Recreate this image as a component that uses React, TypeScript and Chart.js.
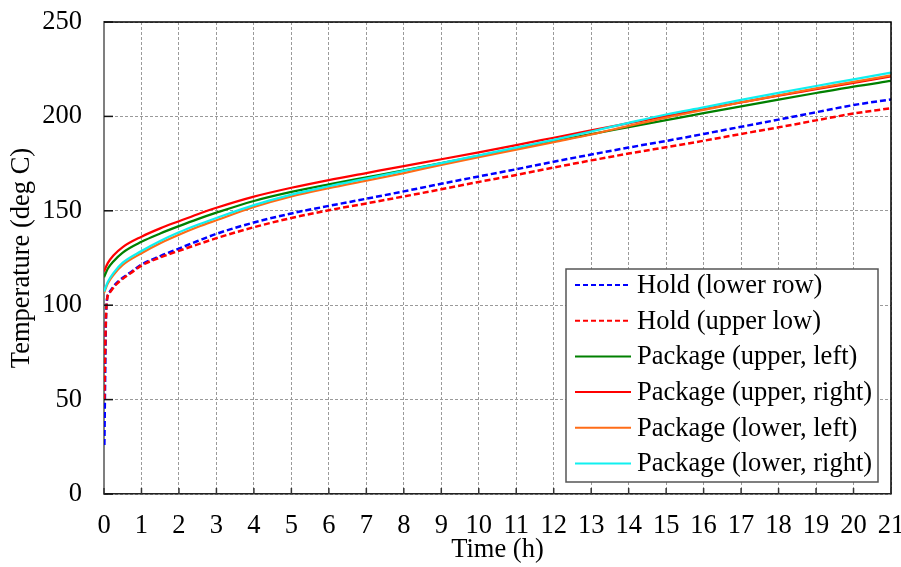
import React, { useEffect, useRef } from "react";
import { Chart, registerables } from "chart.js";

Chart.register(...registerables);

// ---------- data ----------
const HOLD_TIME = [
  0.01, 0.03, 0.05, 0.08, 0.15, 0.3, 0.5, 0.75, 1, 1.5, 2, 2.5, 3,
  4, 5, 6, 7, 8, 9, 10, 11, 12, 13, 14, 15, 16, 17, 18, 19, 20, 21,
];
const HOLD_LOWER_ROW = [
  26, 60, 90, 103, 107, 111, 114.5, 118, 121.5, 126, 130, 134, 137.8,
  143.8, 148.6, 152.6, 156.4, 160.3, 164.3, 168.2, 172, 176, 179.8, 183.5, 187, 190.7, 194.5, 198.3, 202.2, 206, 209,
];
const HOLD_UPPER_LOW = [
  50, 75, 92, 103, 106.5, 110.5, 114, 117.5, 121, 125.3, 128.8, 132.2, 135.5,
  141.3, 146.2, 150.3, 153.9, 157.6, 161.4, 165.3, 169, 172.9, 176.7, 180.3, 183.7, 187.1, 190.7, 194.2, 197.9, 201.5, 204.3,
];

const PKG_TIME = [
  0, 0.1, 0.25, 0.5, 1, 1.5, 2, 2.5, 3,
  4, 5, 6, 7, 8, 9, 10, 11, 12, 13, 14, 15, 16, 17, 18, 19, 20, 21,
];
const PKG_UPPER_LEFT = [
  114.8, 119.3, 123.2, 127.9, 133.6, 138, 141.9, 145.6, 149,
  155.2, 160, 164, 167.7, 171.4, 175.2, 179.1, 183, 186.8, 190.6, 194.3, 198, 201.7, 205.3, 208.9, 212.4, 215.8, 218.8,
];
const PKG_UPPER_RIGHT = [
  117.8, 122.3, 126.3, 130.8, 136.3, 140.7, 144.5, 148.2, 151.6,
  157.5, 162.2, 166.3, 170, 173.7, 177.3, 181, 184.8, 188.7, 192.6, 196.4, 200.2, 203.8, 207.4, 211, 214.4, 217.8, 221.2,
];
const PKG_LOWER_LEFT = [
  106.5, 111.5, 116, 121.3, 127.5, 132.8, 137.3, 141.4, 145,
  152, 157.6, 162, 166, 170, 174.3, 178.4, 182.4, 186.4, 190.4, 195, 199.4, 203.4, 207.5, 211.2, 214.8, 218.3, 221.7,
];
const PKG_LOWER_RIGHT = [
  107.2, 112.3, 117, 122.5, 128.7, 134, 138.6, 142.6, 146.2,
  153, 158.6, 163, 167, 171.1, 175.3, 179.4, 183.5, 187.6, 192, 196.6, 201, 204.8, 208.7, 212.5, 216.1, 219.6, 223.2,
];

const SERIES_LABELS = [
  "Hold (lower row)",
  "Hold (upper low)",
  "Package (upper, left)",
  "Package (upper, right)",
  "Package (lower, left)",
  "Package (lower, right)",
];

const X_TITLE = "Time (h)";
const Y_TITLE = "Temperature (deg C)";

const FONT = "'Liberation Serif', 'Times New Roman', serif";
const FS = 26.5;

export default function App() {
  const ref = useRef<HTMLCanvasElement>(null);

  useEffect(() => {
    document.body.style.margin = "0";
    const canvas = ref.current;
    if (!canvas) return;

    const pts = (xs: number[], ys: number[]) => xs.map((x, i) => ({ x, y: ys[i] }));

    const specs = [
      { t: HOLD_TIME, v: HOLD_LOWER_ROW, color: "#0000FF", dash: [6, 3] },
      { t: HOLD_TIME, v: HOLD_UPPER_LOW, color: "#FF0000", dash: [6, 3] },
      { t: PKG_TIME, v: PKG_UPPER_LEFT, color: "#008000", dash: [] as number[] },
      { t: PKG_TIME, v: PKG_UPPER_RIGHT, color: "#FF0000", dash: [] as number[] },
      { t: PKG_TIME, v: PKG_LOWER_LEFT, color: "#FF6C17", dash: [] as number[] },
      { t: PKG_TIME, v: PKG_LOWER_RIGHT, color: "#10F0F0", dash: [] as number[] },
    ];

    const framePlugin = {
      id: "frameAndLegend",
      afterDraw(chart: any) {
        const { ctx, chartArea } = chart;
        const { left, right, top, bottom } = chartArea;
        const xs = chart.scales.x;
        const ys = chart.scales.y;
        ctx.save();
        ctx.strokeStyle = "#000";
        ctx.lineWidth = 1.5;
        ctx.setLineDash([]);
        ctx.beginPath();
        ctx.moveTo(left, top);
        ctx.lineTo(right, top);
        ctx.lineTo(right, bottom);
        ctx.stroke();
        ctx.lineWidth = 1.5;
        ctx.strokeStyle = "#333";
        xs.ticks.forEach((t: any) => {
          const px = xs.getPixelForValue(t.value);
          ctx.beginPath();
          ctx.moveTo(px, bottom);
          ctx.lineTo(px, bottom - 6);
          ctx.stroke();
        });
        ctx.strokeStyle = "#111";
        ys.ticks.forEach((t: any) => {
          const py = ys.getPixelForValue(t.value);
          ctx.beginPath();
          ctx.moveTo(left, py);
          ctx.lineTo(left + 9, py);
          ctx.stroke();
        });
        // legend
        const bx = 566, by = 269, bw = 312, bh = 213;
        ctx.fillStyle = "#fff";
        ctx.fillRect(bx, by, bw, bh);
        ctx.strokeStyle = "#555";
        ctx.lineWidth = 1.5;
        ctx.strokeRect(bx, by, bw, bh);
        ctx.font = `${FS}px ${FONT}`;
        ctx.textBaseline = "middle";
        ctx.textAlign = "left";
        chart.data.datasets.forEach((ds: any, i: number) => {
          const yy = 285 + i * 35.7;
          ctx.strokeStyle = ds.borderColor;
          ctx.lineWidth = 2;
          ctx.setLineDash(ds.borderDash && ds.borderDash.length ? [5, 3] : []);
          ctx.beginPath();
          ctx.moveTo(575, yy);
          ctx.lineTo(631, yy);
          ctx.stroke();
          ctx.setLineDash([]);
          ctx.fillStyle = "#000";
          ctx.fillText(ds.label, 637, yy + 1);
        });
        ctx.restore();
      },
    };

    const chart = new Chart(canvas, {
      type: "line",
      data: {
        datasets: specs.map((s, i) => ({
          label: SERIES_LABELS[i],
          data: pts(s.t, s.v),
          borderColor: s.color,
          backgroundColor: s.color,
          borderWidth: s.dash.length ? 2.5 : 2.25,
          borderDash: s.dash,
          pointRadius: 0,
          fill: false,
          cubicInterpolationMode: "monotone" as const,
          order: specs.length - 1 - i,
        })),
      },
      options: {
        responsive: false,
        animation: false,
        layout: { padding: { top: 22, right: 10, left: 0, bottom: 0 } },
        plugins: {
          legend: { display: false },
          tooltip: { enabled: false },
        },
        scales: {
          x: {
            type: "linear",
            min: 0,
            max: 21,
            ticks: {
              stepSize: 1,
              autoSkip: false,
              maxRotation: 0,
              color: "#000",
              padding: 16,
              font: { family: FONT, size: FS },
            },
            grid: { color: "#9a9a9a", lineWidth: 1, drawTicks: false },
            border: { display: true, color: "#222", width: 1.5, dash: [3, 2] },
            title: {
              display: true,
              text: X_TITLE,
              color: "#000",
              font: { family: FONT, size: FS },
              padding: { top: 0, bottom: 1 },
            },
            afterFit(scale: any) {
              scale.height = 73;
              scale.paddingLeft = 0;
              scale.paddingRight = 0;
            },
          },
          y: {
            min: 0,
            max: 250,
            ticks: {
              stepSize: 50,
              color: "#000",
              padding: 22,
              font: { family: FONT, size: FS },
            },
            grid: { color: "#9a9a9a", lineWidth: 1, drawTicks: false },
            border: { display: true, color: "#7f7f7f", width: 2, dash: [3, 2] },
            title: {
              display: true,
              text: Y_TITLE,
              color: "#000",
              font: { family: FONT, size: FS },
              padding: { top: 6, bottom: 0 },
            },
            afterFit(scale: any) {
              scale.width = 104;
              scale.paddingTop = 0;
              scale.paddingBottom = 0;
            },
          },
        },
      },
      plugins: [framePlugin],
    });

    return () => chart.destroy();
  }, []);

  return (
    <div style={{ width: 901, height: 567, background: "#fff" }}>
      <canvas ref={ref} width={901} height={567} />
    </div>
  );
}
